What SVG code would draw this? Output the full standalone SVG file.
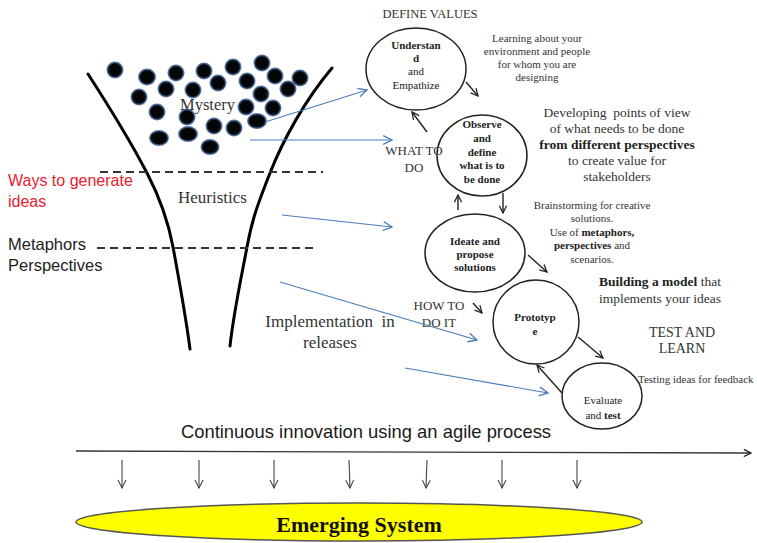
<svg xmlns="http://www.w3.org/2000/svg" width="757" height="543" viewBox="0 0 757 543">
<defs>
<marker id="ab" viewBox="0 0 10 10" refX="9" refY="5" markerWidth="9" markerHeight="9" markerUnits="userSpaceOnUse" orient="auto">
<path d="M1,1 L9,5 L1,9" fill="none" stroke="#222" stroke-width="1.4"/>
</marker>
<marker id="ablue" viewBox="0 0 10 10" refX="9" refY="5" markerWidth="11" markerHeight="11" markerUnits="userSpaceOnUse" orient="auto">
<path d="M1,1 L9,5 L1,9" fill="none" stroke="#4a7ebb" stroke-width="1.2"/>
</marker>
<marker id="agray" viewBox="0 0 10 10" refX="9" refY="5" markerWidth="10" markerHeight="10" markerUnits="userSpaceOnUse" orient="auto">
<path d="M1,1 L9,5 L1,9" fill="none" stroke="#444" stroke-width="1.1"/>
</marker>
</defs>
<style>
.serif{font-family:"Liberation Serif","Times New Roman",serif;fill:#333}
.sans{font-family:"Liberation Sans",Arial,sans-serif;fill:#222}
.node{fill:#fff;stroke:#222;stroke-width:1.5}
.nt{font-family:"Liberation Serif","Times New Roman",serif;font-size:11px;fill:#222;text-anchor:middle}
.b{font-weight:bold}
.pre{white-space:pre}
.blk{stroke:#222;stroke-width:1.4;fill:none;marker-end:url(#ab)}
.blu{stroke:#4a7ebb;stroke-width:1.2;fill:none;marker-end:url(#ablue)}
.down{stroke:#444;stroke-width:1.1;fill:none;marker-end:url(#agray)}
.dot{fill:#050505;stroke:#2a4d80;stroke-width:2;stroke-opacity:0.75}
.dash{stroke:#333;stroke-width:2;stroke-dasharray:8,5}
.funnel{fill:none;stroke:#000;stroke-width:3;stroke-linecap:round}
</style>
<rect width="757" height="543" fill="#fff"/>

<g id="funnel">
<path class="funnel" d="M88,74 C110,108 135,150 147,173 S168,220 173,247 S186,318 190,349"/>
<path class="funnel" d="M332,68 C305,100 283,140 270,173 S252,220 247,247 S234,310 230,346"/>
<line class="dash" x1="100" y1="172" x2="323" y2="172"/>
<line class="dash" x1="97" y1="248" x2="318" y2="248"/>
</g>

<g id="dots">
<ellipse class="dot" cx="115" cy="70" rx="7.5" ry="7.5"/>
<ellipse class="dot" cx="147" cy="77" rx="8" ry="7.5"/>
<ellipse class="dot" cx="176" cy="73" rx="7.5" ry="7.5"/>
<ellipse class="dot" cx="204" cy="71" rx="7.5" ry="7.5"/>
<ellipse class="dot" cx="233" cy="67" rx="7.5" ry="7.5"/>
<ellipse class="dot" cx="262" cy="63" rx="7.5" ry="7.5"/>
<ellipse class="dot" cx="275" cy="76" rx="7.5" ry="7.5"/>
<ellipse class="dot" cx="300" cy="78" rx="7.5" ry="7.5"/>
<ellipse class="dot" cx="247" cy="81" rx="7.5" ry="7.5"/>
<ellipse class="dot" cx="218" cy="83" rx="7.5" ry="7.5"/>
<ellipse class="dot" cx="193" cy="90" rx="7.5" ry="7.5"/>
<ellipse class="dot" cx="166" cy="89" rx="7.5" ry="7.5"/>
<ellipse class="dot" cx="139" cy="97" rx="7.5" ry="7.5"/>
<ellipse class="dot" cx="288" cy="89" rx="7.5" ry="7.5"/>
<ellipse class="dot" cx="261" cy="94" rx="7.5" ry="7.5"/>
<ellipse class="dot" cx="246" cy="107" rx="7.5" ry="7.5"/>
<ellipse class="dot" cx="273" cy="108" rx="7.5" ry="7.5"/>
<ellipse class="dot" cx="157" cy="112" rx="7.5" ry="7.5"/>
<ellipse class="dot" cx="187" cy="117" rx="7.5" ry="7.5"/>
<ellipse class="dot" cx="214" cy="126" rx="7.5" ry="7.5"/>
<ellipse class="dot" cx="234" cy="128" rx="7.5" ry="7.5"/>
<ellipse class="dot" cx="257" cy="121" rx="9" ry="7"/>
<ellipse class="dot" cx="159" cy="138" rx="9" ry="7"/>
<ellipse class="dot" cx="188" cy="134" rx="9" ry="7"/>
<ellipse class="dot" cx="210" cy="147" rx="8.5" ry="7"/>
</g>

<g id="funnel-labels">
<text class="serif" x="180" y="110" font-size="16.5">Mystery</text>
<text class="serif" x="178" y="203" font-size="17">Heuristics</text>
<text class="serif pre" x="330" y="327" font-size="17" text-anchor="middle" xml:space="preserve">Implementation  in</text>
<text class="serif" x="330" y="348" font-size="17" text-anchor="middle">releases</text>
<text class="sans" x="8" y="186" font-size="16" style="fill:#e8202a">Ways to generate</text>
<text class="sans" x="8" y="207" font-size="16" style="fill:#e8202a">ideas</text>
<text class="sans" x="8" y="250" font-size="16.5">Metaphors</text>
<text class="sans" x="8" y="271" font-size="16.5">Perspectives</text>
</g>

<g id="understand">
<ellipse class="node" cx="416" cy="69" rx="50" ry="41"/>
<text class="nt b" x="416" y="49" font-size="10.5">Understan</text>
<text class="nt b" x="416" y="62" font-size="10.5">d</text>
<text class="nt" x="416" y="75">and</text>
<text class="nt" x="416" y="89">Empathize</text>
</g>

<g id="observe">
<ellipse class="node" cx="482" cy="155.5" rx="45" ry="40.5"/>
<text class="nt b" x="482" y="128">Observe</text>
<text class="nt b" x="482" y="142">and</text>
<text class="nt b" x="482" y="156">define</text>
<text class="nt b" x="482" y="169">what is to</text>
<text class="nt b" x="482" y="183">be done</text>
</g>

<g id="ideate">
<ellipse class="node" cx="475" cy="253" rx="50" ry="39"/>
<text class="nt b" x="475" y="245">Ideate and</text>
<text class="nt b" x="475" y="258">propose</text>
<text class="nt b" x="475" y="271">solutions</text>
</g>

<g id="prototype">
<ellipse class="node" cx="536" cy="322" rx="43" ry="42"/>
<text class="nt b" x="535" y="321">Prototyp</text>
<text class="nt b" x="535" y="335">e</text>
</g>

<g id="evaluate">
<ellipse class="node" cx="602" cy="396" rx="40" ry="33"/>
<text class="nt" x="603" y="404">Evaluate</text>
<text class="nt" x="603" y="419">and <tspan class="b">test</tspan></text>
</g>

<g id="annotations">
<text class="serif" x="430" y="18" font-size="12.5" text-anchor="middle">DEFINE VALUES</text>
<g font-size="11" text-anchor="middle">
<text class="serif" x="537" y="42">Learning about your</text>
<text class="serif" x="537" y="55">environment and people</text>
<text class="serif" x="537" y="68">for whom you are</text>
<text class="serif" x="537" y="81">designing</text>
</g>
<g font-size="13.5" text-anchor="middle">
<text class="serif pre" x="617" y="117" xml:space="preserve">Developing  points of view</text>
<text class="serif" x="617" y="133">of what needs to be done</text>
<text class="serif b" x="617" y="149" style="fill:#222">from different perspectives</text>
<text class="serif" x="617" y="165">to create value for</text>
<text class="serif" x="617" y="181">stakeholders</text>
</g>
<text class="serif" x="414" y="155" font-size="13" text-anchor="middle">WHAT TO</text>
<text class="serif" x="414" y="172" font-size="13" text-anchor="middle">DO</text>
<g font-size="11" text-anchor="middle">
<text class="serif" x="592" y="209">Brainstorming for creative</text>
<text class="serif" x="592" y="222">solutions.</text>
<text class="serif" x="592" y="236">Use of <tspan class="b" style="fill:#222">metaphors,</tspan></text>
<text class="serif" x="592" y="249"><tspan class="b" style="fill:#222">perspectives</tspan> and</text>
<text class="serif" x="592" y="263">scenarios.</text>
</g>
<text class="serif" x="660" y="286" font-size="13.5" text-anchor="middle"><tspan class="b" style="fill:#222">Building a model</tspan> that</text>
<text class="serif" x="660" y="303" font-size="13.5" text-anchor="middle">implements your ideas</text>
<text class="serif" x="439" y="310" font-size="13" text-anchor="middle">HOW TO</text>
<text class="serif" x="439" y="327" font-size="13" text-anchor="middle">DO IT</text>
<text class="serif" x="682" y="337" font-size="14" text-anchor="middle">TEST AND</text>
<text class="serif" x="682" y="353" font-size="14" text-anchor="middle">LEARN</text>
<text class="serif" x="638" y="383" font-size="11">Testing ideas for feedback</text>
</g>

<g id="connectors">
<line class="blk" x1="466" y1="82" x2="478" y2="96"/>
<line class="blk" x1="427" y1="132" x2="412" y2="112"/>
<line class="blk" x1="458" y1="210" x2="458" y2="195"/>
<line class="blk" x1="503" y1="193" x2="503" y2="213"/>
<line class="blk" x1="528" y1="255" x2="547" y2="272"/>
<line class="blk" x1="473" y1="303" x2="482" y2="313"/>
<line class="blk" x1="578" y1="337" x2="603" y2="358"/>
<line class="blk" x1="562" y1="393" x2="537" y2="365"/>
<line class="blu" x1="265" y1="122" x2="367" y2="90"/>
<line class="blu" x1="250" y1="140" x2="392" y2="140"/>
<line class="blu" x1="282" y1="215" x2="392" y2="227"/>
<line class="blu" x1="280" y1="282" x2="477" y2="340"/>
<line class="blu" x1="405" y1="368" x2="548" y2="393"/>
<line stroke="#333" stroke-width="1.3" x1="76" y1="451" x2="751" y2="453" marker-end="url(#ab)"/>
<line class="down" x1="122" y1="460" x2="122" y2="488"/>
<line class="down" x1="199" y1="460" x2="199" y2="488"/>
<line class="down" x1="274" y1="460" x2="274" y2="488"/>
<line class="down" x1="349" y1="460" x2="350" y2="488"/>
<line class="down" x1="427" y1="460" x2="426" y2="488"/>
<line class="down" x1="502" y1="460" x2="502" y2="488"/>
<line class="down" x1="577" y1="460" x2="577" y2="488"/>
</g>

<text class="sans" x="366" y="438" font-size="18.4" text-anchor="middle" style="fill:#1a1a1a">Continuous innovation using an agile process</text>

<g id="emerging-system">
<ellipse cx="359" cy="522" rx="283" ry="19" fill="#ffff00" stroke="#555" stroke-width="1.5"/>
<text x="359" y="532" font-family="'Liberation Serif','Times New Roman',serif" font-weight="bold" font-size="22" text-anchor="middle" fill="#111">Emerging System</text>
</g>
</svg>
